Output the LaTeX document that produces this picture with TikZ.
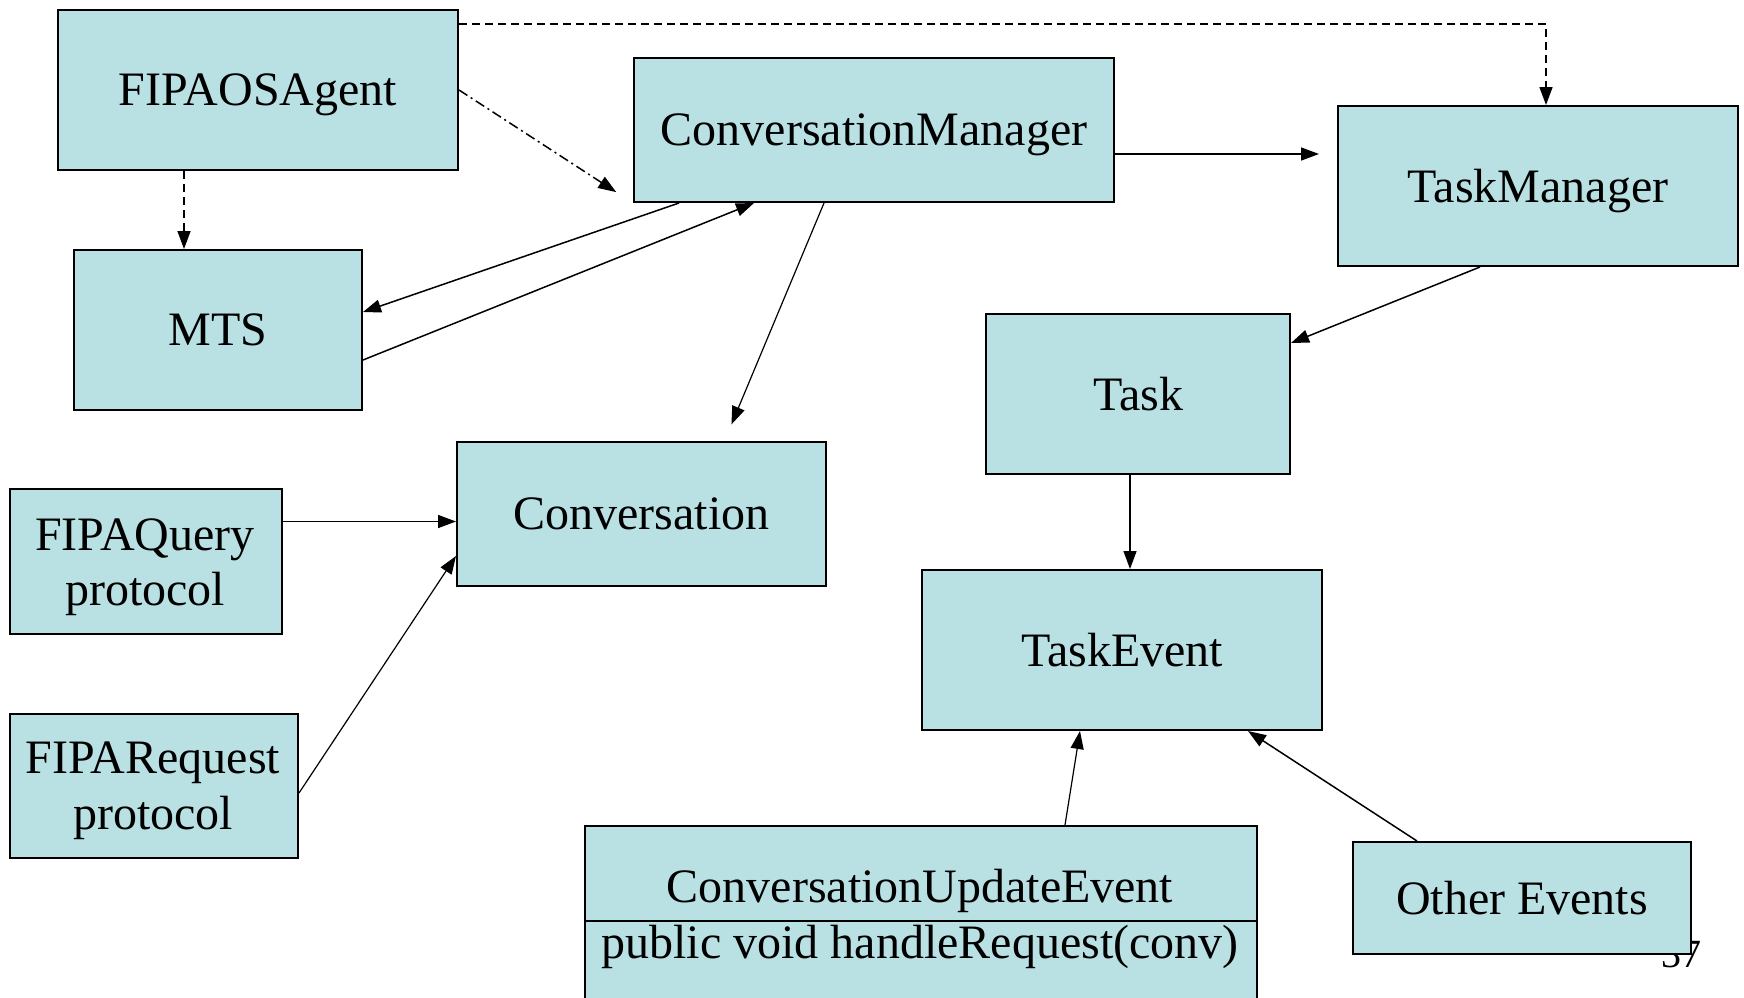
\documentclass[tikz,border=0pt]{standalone}
\usepackage{fontspec}
\setmainfont{Liberation Serif}
\usetikzlibrary{arrows.meta}
\definecolor{boxfill}{RGB}{185,224,227}
\begin{document}
\begin{tikzpicture}[x=1pt,y=-1pt,
  box/.style={draw=black, line width=2pt, fill=boxfill, inner sep=0pt,
    anchor=north west, text depth=0pt, font=\fontsize{48}{57}\selectfont},
  lbl/.style={inner sep=0pt, anchor=base, font=\fontsize{48}{57}\selectfont},
  conn/.style={line width=1.5pt, -{Triangle[length=18pt,width=13pt]}},
  thinconn/.style={conn, line width=1.2pt},
  gap/.style={shorten >=18pt},
  dashline/.style={conn, dash pattern=on 8pt off 5pt},
  dashdotline/.style={conn, dash pattern=on 10pt off 4pt on 2pt off 4pt},
]
\useasboundingbox (0,0) rectangle (1744,997);

% page number, partly covered by the "Other Events" box
\node[inner sep=0pt, anchor=base, font=\fontsize{40}{48}\selectfont] (pgno) at (1681,967) {37};

% classes
\node[box, minimum width=400pt, minimum height=160pt] (agent) at (57,9) {FIPAOSAgent};
\node[box, minimum width=480pt, minimum height=144pt] (cm) at (633,57) {ConversationManager};
\node[box, minimum width=400pt, minimum height=160pt] (tm) at (1337,105) {TaskManager};
\node[box, minimum width=288pt, minimum height=160pt] (mts) at (73,249) {MTS};
\node[box, minimum width=369pt, minimum height=144pt] (conv) at (456,441) {Conversation};
\node[box, minimum width=304pt, minimum height=160pt] (task) at (985,313) {Task};
\node[box, minimum width=400pt, minimum height=160pt] (te) at (921,569) {TaskEvent};
\node[box, minimum width=338pt, minimum height=112pt] (other) at (1352,841) {Other Events};

% protocol boxes with two-line names
\node[box, minimum width=272pt, minimum height=145pt] (fq) at (9,488) {};
\node[lbl] (fqname) at (145,550) {FIPAQuery};
\node[lbl] (fqkind) at (145,605) {protocol};
\node[box, minimum width=288pt, minimum height=144pt] (fr) at (9,713) {};
\node[lbl] (frname) at (153,773) {FIPARequest};
\node[lbl] (frkind) at (153,829) {protocol};

% class box with a method compartment
\node[box, minimum width=672pt, minimum height=185pt] (cue) at (584,825) {};
\draw[line width=2pt] (cue.west |- 0,921) -- (cue.east |- 0,921);
\node[lbl] (cuename) at (920,902) {ConversationUpdateEvent};
\node[lbl] (cuemeth) at (920,958) {public void handleRequest(conv)};

% connectors
\coordinate (dx) at (184,0);
\draw[dashline] ([yshift=-15pt]agent.north east) -| ([xshift=8pt]tm.north);
\draw[dashline] (agent.south -| dx) -- (mts.north -| dx);
\draw[dashdotline, shorten >=20pt] (agent.east) -- (cm.south west);

\draw[conn] ([xshift=46pt]cm.south west) -- ([yshift=18pt]mts.east);
\draw[conn] ([yshift=-30pt]mts.east) -- ([xshift=121pt]cm.south west);
\draw[thinconn, gap] ([xshift=191pt]cm.south west) -- ([xshift=83pt]conv.north);
\draw[conn, gap] ([yshift=-24pt]cm.east) -- ([yshift=-24pt]cm.east -| tm.west);

\draw[conn] ([xshift=-58pt]tm.south) -- ([yshift=51pt]task.east);
\draw[thinconn] ([xshift=-8pt]task.south) -- ([xshift=-8pt]task.south |- te.north);

\draw[conn] ([yshift=40pt]fq.east) -- ([yshift=40pt]fq.east -| conv.west);
\draw[thinconn] ([yshift=-7pt]fr.east) -- ([yshift=-42pt]conv.west);

\draw[thinconn] ([xshift=144pt]cue.north) -- ([xshift=-42pt]te.south);
\draw[conn] ([xshift=-105pt]other.north) -- ([xshift=126pt]te.south);
\end{tikzpicture}
\end{document}
